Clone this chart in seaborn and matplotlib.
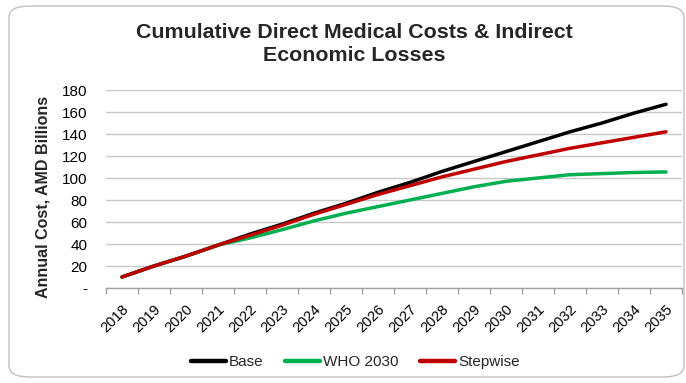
import matplotlib
matplotlib.use("Agg")
import matplotlib.pyplot as plt
from matplotlib.patches import FancyBboxPatch
from matplotlib.ticker import FixedLocator, FuncFormatter
from matplotlib.lines import Line2D
import seaborn as sns
import pandas as pd

years = list(range(2018, 2036))
base = [10, 20, 29, 39, 49, 58, 68, 77, 87, 96, 106, 115, 124, 133, 142, 150, 159, 167]
who2030 = [10, 20, 29, 39, 45.5, 53, 61, 68, 74, 80, 86, 92, 97, 100, 103, 104, 105, 105.5]
stepwise = [10, 20, 29, 39, 48, 57, 67, 76, 85, 93, 101, 108, 115, 121, 127, 132, 137, 142]
series_names = ["Base", "WHO 2030", "Stepwise"]
colors = ["#000000", "#00B050", "#C00000"]
yticks = [0, 20, 40, 60, 80, 100, 120, 140, 160, 180]

df = pd.DataFrame({
    "Year": years * 3,
    "Value": base + who2030 + stepwise,
    "Scenario": [series_names[0]] * len(years) + [series_names[1]] * len(years) + [series_names[2]] * len(years),
})

sns.set_theme(style="white")
plt.rcParams["font.family"] = ["Liberation Sans", "DejaVu Sans"]

fig = plt.figure(figsize=(6.86, 3.83), dpi=100)
ax = fig.add_axes([106 / 686, 1 - 288 / 383, (682 - 106) / 686, (288 - 90) / 383])

# rounded border
border = FancyBboxPatch((9 / 686, 6 / 383), (684 - 9) / 686, (377 - 6) / 383,
                        boxstyle="round,pad=0,rounding_size=0.03",
                        transform=fig.transFigure, fill=False,
                        edgecolor="#BFBFBF", linewidth=1.0, zorder=0)
fig.add_artist(border)

sns.lineplot(data=df, x="Year", y="Value", hue="Scenario", hue_order=series_names,
             palette=colors, linewidth=2.5, ax=ax, legend=False, zorder=3)

ax.set_xlim(2017.5, 2035.5)
ax.set_ylim(0, 180)
ax.set_yticks(yticks)
ax.yaxis.set_major_formatter(FuncFormatter(lambda v, p: "-" if v == 0 else f"{int(v)}"))
ax.grid(axis="y", color="#C8C8C8", linewidth=1.0, zorder=0)
ax.grid(axis="x", visible=False)

ax.set_xticks(years)
ax.set_xticklabels([str(y) for y in years], rotation=45, ha="right", rotation_mode="anchor")
ax.xaxis.set_minor_locator(FixedLocator([y + 0.5 for y in range(2017, 2036)]))
ax.tick_params(axis="x", which="major", length=0, pad=10, labelsize=10.5, colors="#000000")
ax.tick_params(axis="x", which="minor", length=4.5, width=1.0, color="#A0A0A0", direction="out", bottom=True)
ax.tick_params(axis="y", length=0, pad=13.5, labelsize=11, colors="#000000")

for s in ["top", "right", "left"]:
    ax.spines[s].set_visible(False)
ax.spines["bottom"].set_color("#A0A0A0")
ax.spines["bottom"].set_linewidth(1.0)

ax.set_xlabel("")
ax.set_ylabel("Annual Cost, AMD Billions", fontsize=11.5, fontweight="bold")
ax.yaxis.set_label_coords(-0.097, 0.46)

fig.text(0.517, 1 - 44 / 383, "Cumulative Direct Medical Costs & Indirect\nEconomic Losses",
         ha="center", va="center", fontsize=15.4, fontweight="bold", linespacing=1.25)

handles = [Line2D([0], [0], color=c, linewidth=3.2) for c in colors]
leg = fig.legend(handles, series_names, loc="center", bbox_to_anchor=(0.518, 1 - 362 / 383),
                 ncol=3, frameon=False, fontsize=11, handlelength=2.3, handletextpad=0.2,
                 columnspacing=1.4)

fig.savefig("out.png", dpi=100)
